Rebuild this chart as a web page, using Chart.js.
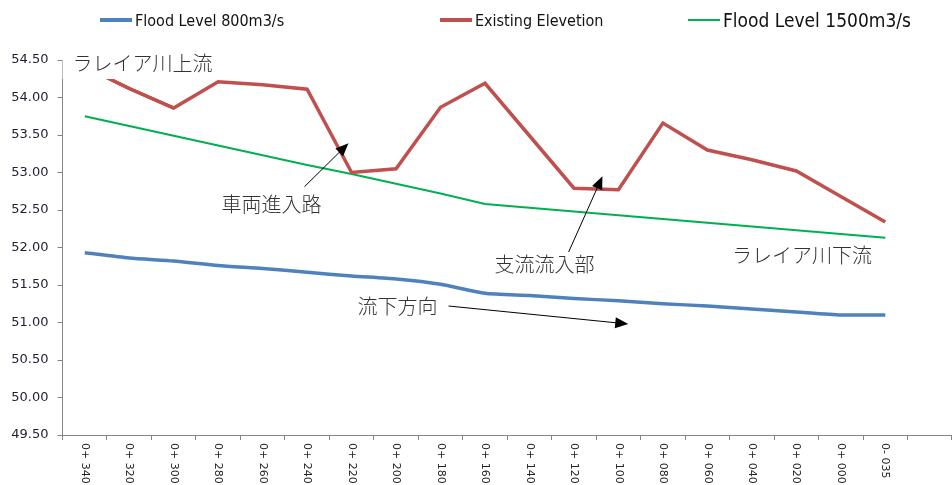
<!DOCTYPE html>
<html>
<head>
<meta charset="utf-8">
<script src="https://cdn.jsdelivr.net/npm/chart.js@4.4.0/dist/chart.umd.min.js"></script>
<style>
  html, body { margin: 0; padding: 0; background: #fff; }
  #wrap { position: relative; width: 952px; height: 485px; }
  #legend { position: absolute; left: 0; top: 0; width: 952px; height: 40px; }
  .item { position: absolute; top: 0; height: 40px; display: flex; align-items: center; color: #111;
    font-family: 'Liberation Sans Narrow', 'DejaVu Sans Condensed', sans-serif; white-space: nowrap; }
  .swatch { display: inline-block; width: 32px; margin-right: 3px; }
</style>
</head>
<body>
<div id="wrap">
  <canvas id="levelChart" width="952" height="485"></canvas>
  <div id="legend"></div>
</div>
<script>
// station labels along the river (upstream -> downstream)
const stations = ['0+ 340', '0+ 320', '0+ 300', '0+ 280', '0+ 260', '0+ 240', '0+ 220', '0+ 200', '0+ 180', '0+ 160',
  '0+ 140', '0+ 120', '0+ 100', '0+ 080', '0+ 060', '0+ 040', '0+ 020', '0+ 000', '0- 035', '']

const flood800 = [51.93, 51.86, 51.82, 51.76, 51.72, 51.67, 51.62, 51.58, 51.51, 51.39,
  51.36, 51.32, 51.29, 51.25, 51.22, 51.18, 51.14, 51.10, 51.10, null]
const existing = [54.41, 54.12, 53.86, 54.21, 54.17, 54.11, 53.00, 53.05, 53.87, 54.19,
  53.49, 52.79, 52.77, 53.66, 53.30, 53.17, 53.02, 52.68, 52.34, null]
// short stretch drawn over in a different red at the upstream end
const existingUpstream = [54.41, 54.12, 53.86, null, null, null, null, null, null, null,
  null, null, null, null, null, null, null, null, null, null]
const flood1500 = [53.75, 53.62, 53.49, 53.36, 53.23, 53.10, 52.98, 52.85, 52.72, 52.58,
  52.53, 52.48, 52.43, 52.38, 52.33, 52.28, 52.23, 52.18, 52.13, null]

const seriesNames = ['Flood Level 800m3/s', 'Existing Elevetion', 'Flood Level 1500m3/s']

// callouts, placed in data coordinates [station index, level]
const notes = [
  { text: 'ラレイア川上流', at: [1.30, 54.46], box: true },
  { text: '車両進入路', at: [4.20, 52.57] },
  { text: '支流流入部', at: [10.34, 51.77] },
  { text: '流下方向', at: [7.03, 51.22] },
  { text: 'ラレイア川下流', at: [16.13, 51.90] }
]
const arrows = [
  { from: [4.94, 52.81], to: [5.93, 53.39] },
  { from: [10.88, 51.94], to: [11.64, 52.95] },
  { from: [8.18, 51.22], to: [12.22, 50.98] }
]

const noteFont = '300 20px "Noto Sans CJK JP", sans-serif'
const tickFont = '11px "DejaVu Sans", sans-serif'

/**
 * Draws the callout texts, arrows and the vertical station labels.
 */
const calloutPlugin = {
  id: 'callouts',
  afterDraw (chart) {
    const { ctx, scales: { x, y } } = chart
    ctx.save()

    // station labels, read top to bottom
    ctx.font = tickFont
    ctx.fillStyle = '#222'
    ctx.textAlign = 'left'
    ctx.textBaseline = 'middle'
    stations.forEach((s, i) => {
      if (!s) return
      ctx.save()
      ctx.translate(x.getPixelForValue(i), y.bottom + 8)
      ctx.rotate(Math.PI / 2)
      ctx.fillText(s, 0, 0)
      ctx.restore()
    })

    // arrows
    ctx.strokeStyle = '#000'
    ctx.fillStyle = '#000'
    ctx.lineWidth = 1
    arrows.forEach(a => {
      const x1 = x.getPixelForValue(a.from[0])
      const y1 = y.getPixelForValue(a.from[1])
      const x2 = x.getPixelForValue(a.to[0])
      const y2 = y.getPixelForValue(a.to[1])
      const ang = Math.atan2(y2 - y1, x2 - x1)
      const len = 13
      ctx.beginPath()
      ctx.moveTo(x1, y1)
      ctx.lineTo(x2 - Math.cos(ang) * len * 0.8, y2 - Math.sin(ang) * len * 0.8)
      ctx.stroke()
      ctx.beginPath()
      ctx.moveTo(x2, y2)
      ctx.lineTo(x2 - len * Math.cos(ang) + 5.5 * Math.sin(ang), y2 - len * Math.sin(ang) - 5.5 * Math.cos(ang))
      ctx.lineTo(x2 - len * Math.cos(ang) - 5.5 * Math.sin(ang), y2 - len * Math.sin(ang) + 5.5 * Math.cos(ang))
      ctx.closePath()
      ctx.fill()
    })

    // texts
    ctx.font = noteFont
    ctx.textAlign = 'center'
    ctx.textBaseline = 'middle'
    notes.forEach(n => {
      const cx = x.getPixelForValue(n.at[0])
      const cy = y.getPixelForValue(n.at[1])
      if (n.box) {
        const w = ctx.measureText(n.text).width
        ctx.fillStyle = '#fff'
        ctx.fillRect(cx - w / 2 - 10, cy - 18, w + 20, 34)
      }
      ctx.fillStyle = '#333'
      ctx.fillText(n.text, cx, cy)
    })
    ctx.restore()
  }
}

const datasets = [
  { label: seriesNames[0], data: flood800, borderColor: '#4F81BD', borderWidth: 3.5, tension: 0.2 },
  { label: seriesNames[1], data: existing, borderColor: '#C0504D', borderWidth: 3.5, tension: 0 },
  { label: '', data: existingUpstream, borderColor: '#C5461B', borderWidth: 3.5, tension: 0 },
  { label: seriesNames[2], data: flood1500, borderColor: '#00B050', borderWidth: 2, tension: 0 }
]

/**
 * Legend built as HTML so each entry can keep its own text size.
 */
function buildLegend () {
  const legend = document.getElementById('legend')
  const entries = [
    { name: seriesNames[0], color: '#4F81BD', thick: 4, left: 100, size: 16 },
    { name: seriesNames[1], color: '#C0504D', thick: 4, left: 440, size: 16 },
    { name: seriesNames[2], color: '#00B050', thick: 2, left: 688, size: 19 }
  ]
  entries.forEach(e => {
    const item = document.createElement('div')
    item.className = 'item'
    item.style.left = e.left + 'px'
    item.style.fontSize = e.size + 'px'
    const sw = document.createElement('span')
    sw.className = 'swatch'
    sw.style.height = e.thick + 'px'
    sw.style.background = e.color
    const label = document.createElement('span')
    label.textContent = e.name
    item.appendChild(sw)
    item.appendChild(label)
    legend.appendChild(item)
  })
}

document.addEventListener('DOMContentLoaded', () => {
  const ctx = document.getElementById('levelChart').getContext('2d')
  window.myChart = new Chart(ctx, {
    type: 'line',
    data: { labels: stations, datasets },
    options: {
      responsive: false,
      animation: false,
      layout: { padding: { top: 60, right: 0, bottom: 0, left: 0 } },
      elements: { point: { radius: 0 } },
      plugins: { legend: { display: false }, tooltip: { enabled: false } },
      scales: {
        x: {
          offset: true,
          grid: { offset: true, drawOnChartArea: false, color: '#868686', tickLength: 5 },
          border: { color: '#868686' },
          ticks: { display: false },
          afterFit: s => { s.height = 50 }
        },
        y: {
          min: 49.5,
          max: 54.5,
          grid: { drawOnChartArea: false, color: '#868686', tickLength: 5 },
          border: { color: '#868686' },
          ticks: {
            stepSize: 0.5,
            padding: 9,
            color: '#1e1e30',
            font: { family: '"DejaVu Sans", sans-serif', size: 13 },
            callback: v => v.toFixed(2)
          },
          afterFit: s => { s.width = 62.5 }
        }
      }
    },
    plugins: [calloutPlugin]
  })
  buildLegend()
})
</script>
</body>
</html>
